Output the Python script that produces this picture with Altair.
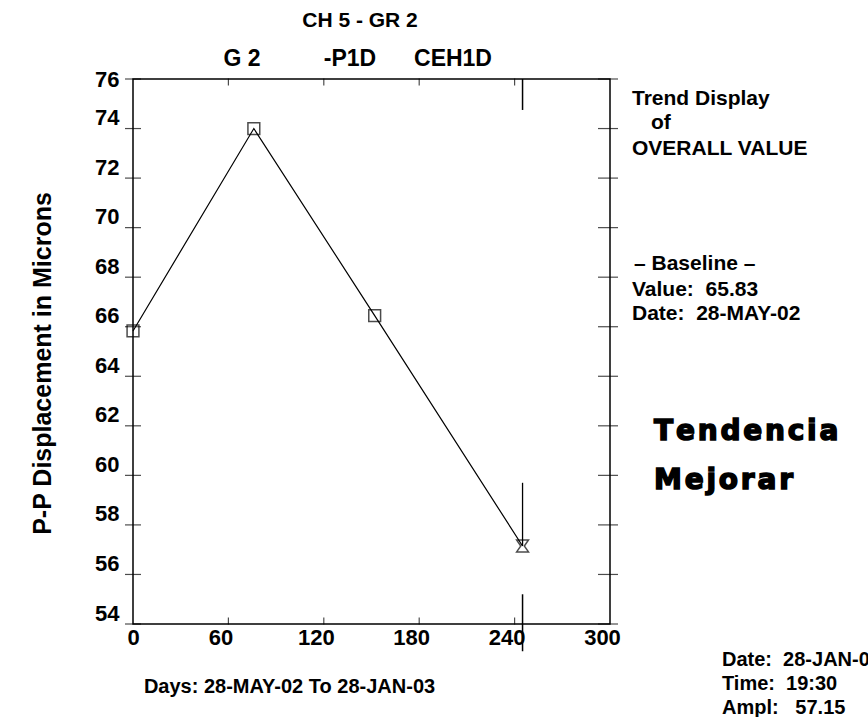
import altair as alt
import pandas as pd

# Trend readings: days since 28-MAY-02 and peak-to-peak displacement (microns)
days = [0, 76, 152, 245]
microns = [65.83, 74.0, 66.45, 57.15]
reading_kind = ["reading", "reading", "reading", "latest"]

# Axis ticks
x_ticks = [0, 60, 120, 180, 240, 300]
y_ticks = [54, 56, 58, 60, 62, 64, 66, 68, 70, 72, 74, 76]

# Latest reading: day cursor and upper whisker
latest_day = 245
latest_high = 59.7
cursor_top = [76.0, 74.75]
cursor_bottom = [55.2, 52.9]

W, H = 477, 545
FONT = "Liberation Sans"
NB = "\u00a0"

xs = alt.Scale(domain=[0, 300], nice=False, zero=False)
ys = alt.Scale(domain=[54, 76], nice=False, zero=False)

trend = pd.DataFrame({"day": days, "um": microns, "kind": reading_kind})
yt = pd.DataFrame({"v": y_ticks})
xt = pd.DataFrame({"d": x_ticks[1:-1]})

hourglass = "M-1,-1L1,-1L0.3,0L1,1L-1,1L-0.3,0Z"

base = alt.Chart(trend)

line = base.mark_line(color="black", strokeWidth=1.2).encode(
    x=alt.X(
        "day:Q", scale=xs,
        axis=alt.Axis(
            values=x_ticks, domain=False, ticks=False, grid=False,
            labelFont=FONT, labelFontSize=22, labelFontWeight="bold",
            labelColor="black", labelPadding=3, labelFlush=False,
            labelOffset={"condition": {"test": "datum.value == 0", "value": 0}, "value": -8},
            title="Days: 28-MAY-02 To 28-JAN-03", titleFont=FONT,
            titleFontSize=20, titleFontWeight="bold", titleColor="black",
            titleX=156, titleY=62, titleAnchor="middle", titleAlign="center",
            titleBaseline="middle",
        ),
    ),
    y=alt.Y(
        "um:Q", scale=ys,
        axis=alt.Axis(
            values=y_ticks, domain=False, ticks=False, grid=False,
            labelFont=FONT, labelFontSize=22, labelFontWeight="bold",
            labelColor="black", labelPadding=14, labelFlush=False,
            labelOffset={"condition": {"test": "datum.value == 76", "value": 0}, "value": -11},
            title="P-P Displacement in Microns", titleFont=FONT,
            titleFontSize=25, titleFontWeight="bold", titleColor="black",
            titleAngle=270, titleX=-91, titleY=284, titleAlign="center",
            titleBaseline="middle",
        ),
    ),
)

points = base.mark_point(filled=False, color="black", strokeWidth=1.5, size=140).encode(
    x=alt.X("day:Q", scale=xs),
    y=alt.Y("um:Q", scale=ys),
    shape=alt.Shape("kind:N", scale=alt.Scale(domain=["reading", "latest"], range=["square", hourglass]), legend=None),
)

whisker = alt.Chart(pd.DataFrame({"d": [latest_day], "lo": [microns[-1]], "hi": [latest_high]})).mark_rule(
    color="black", strokeWidth=1.3
).encode(x=alt.X("d:Q", scale=xs), y=alt.Y("lo:Q", scale=ys), y2="hi:Q")

cursor = alt.Chart(pd.DataFrame({
    "d": [latest_day, latest_day],
    "a": [cursor_top[0], cursor_bottom[0]],
    "b": [cursor_top[1], cursor_bottom[1]],
})).mark_rule(color="black", strokeWidth=1.5).encode(
    x=alt.X("d:Q", scale=xs), y=alt.Y("a:Q", scale=ys), y2="b:Q"
)

left_ticks = alt.Chart(yt).mark_tick(orient="horizontal", color="black", size=16, thickness=1.2).encode(
    y=alt.Y("v:Q", scale=ys), x=alt.value(0)
)
right_ticks = alt.Chart(yt).mark_tick(orient="horizontal", color="black", size=20, thickness=1.2).encode(
    y=alt.Y("v:Q", scale=ys), x=alt.value(W - 2)
)
top_ticks = alt.Chart(xt).mark_tick(orient="vertical", color="black", size=7, thickness=1.2).encode(
    x=alt.X("d:Q", scale=xs), y=alt.value(3)
)
bottom_ticks = alt.Chart(xt).mark_tick(orient="vertical", color="black", size=7, thickness=1.2).encode(
    x=alt.X("d:Q", scale=xs), y=alt.value(H - 3)
)


def label(text, x, y, size=21, font=FONT, align="left", heavy=0):
    props = dict(
        align=align, baseline="middle", font=font, fontSize=size,
        fontWeight="bold", color="black",
    )
    if heavy:
        props.update(stroke="black", strokeWidth=heavy)
    return alt.Chart(pd.DataFrame({"t": [text]})).mark_text(**props).encode(
        text="t:N", x=alt.value(x), y=alt.value(y)
    )


# Header and side panel, placed relative to the plot's top-left corner
X0, Y0 = 133, 79
GAP = "\u200a"
notes = [
    label("CH 5 - GR 2", 360 - X0, 21 - Y0, 21, align="center"),
    label("G 2", 242 - X0, 59 - Y0, 23, align="center"),
    label("-P1D", 350 - X0, 59 - Y0, 23, align="center"),
    label("CEH1D", 453 - X0, 59 - Y0, 23, align="center"),
    label("Trend Display", 632 - X0, 99 - Y0),
    label("of", 651 - X0, 123 - Y0),
    label("OVERALL VALUE", 632 - X0, 149 - Y0),
    label("\u2013 Baseline \u2013", 634 - X0, 264 - Y0),
    label(f"Value:{NB}{NB}65.83", 632 - X0, 290 - Y0),
    label(f"Date:{NB}{NB}28-MAY-02", 632 - X0, 314 - Y0),
    label(GAP.join("Tendencia"), 654 - X0, 432 - Y0, 28, "DejaVu Sans", heavy=1.5),
    label(GAP.join("Mejorar"), 654 - X0, 481 - Y0, 28, "DejaVu Sans", heavy=1.5),
    label(f"Date:{NB}{NB}28-JAN-03", 722 - X0, 660 - Y0, 20),
    label(f"Time:{NB}{NB}19:30", 722 - X0, 684 - Y0, 20),
    label(f"Ampl:{NB}{NB}{NB}57.15", 722 - X0, 708 - Y0, 20),
]

chart = alt.layer(
    left_ticks, right_ticks, top_ticks, bottom_ticks, cursor, whisker, line, points, *notes
).properties(
    width=W, height=H,
    autosize=alt.AutoSizeParams(type="none"),
    padding={"left": X0, "top": Y0, "right": 868 - X0 - W, "bottom": 717 - Y0 - H},
    background="white",
).configure_view(stroke="black", strokeWidth=1.5)

chart.save("out.html", embed_options={"renderer": "svg", "actions": False})
